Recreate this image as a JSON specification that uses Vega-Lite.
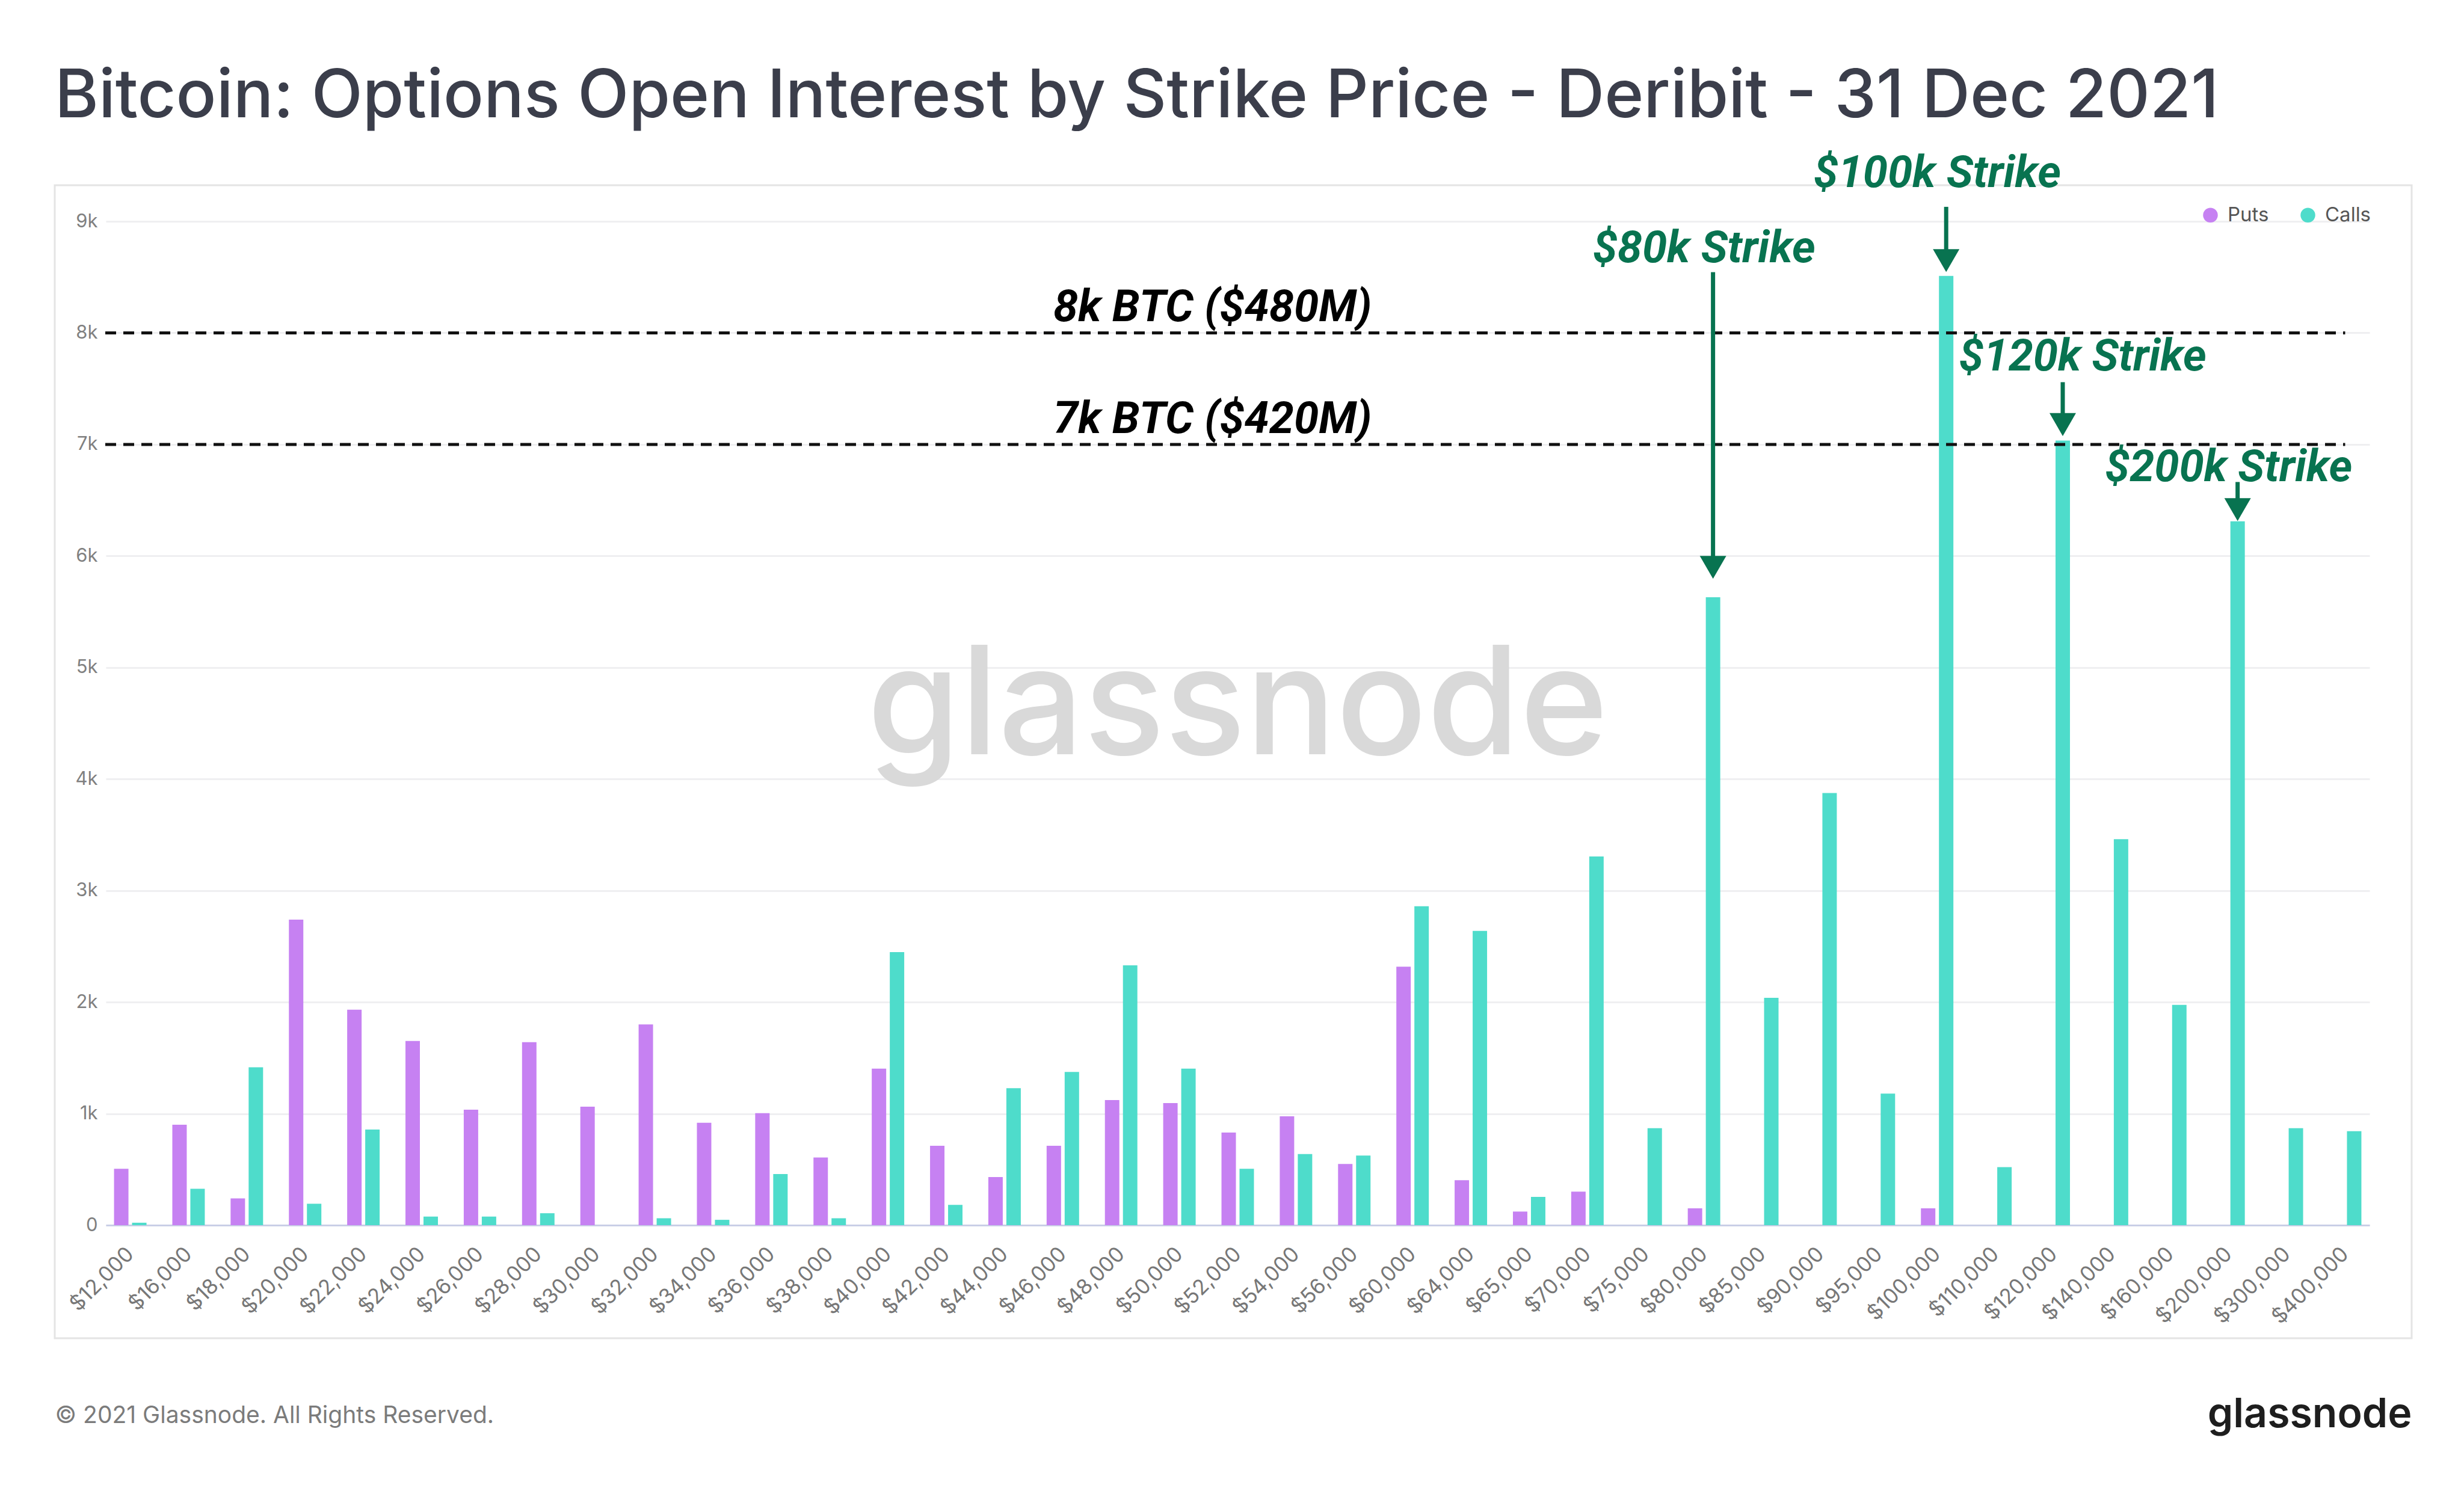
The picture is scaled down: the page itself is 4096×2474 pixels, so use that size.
{
  "$schema": "https://vega.github.io/schema/vega-lite/v6.json",
  "width": 3918,
  "height": 1917,
  "autosize": {"type": "none"},
  "padding": {"left": 91, "top": 308, "right": 87, "bottom": 249},
  "background": "white",
  "title": {
    "text": "Bitcoin: Options Open Interest by Strike Price - Deribit - 31 Dec 2021",
    "anchor": "start",
    "frame": "group",
    "baseline": "alphabetic",
    "offset": -54,
    "font": "Inter",
    "fontSize": 111,
    "fontWeight": 500,
    "color": "#3b3e4b"
  },
  "datasets": {
    "oi": [
      {"strike": "$12,000", "type": "Puts", "oi": 505}, {"strike": "$12,000", "type": "Calls", "oi": 22},
      {"strike": "$16,000", "type": "Puts", "oi": 900}, {"strike": "$16,000", "type": "Calls", "oi": 326},
      {"strike": "$18,000", "type": "Puts", "oi": 240}, {"strike": "$18,000", "type": "Calls", "oi": 1415},
      {"strike": "$20,000", "type": "Puts", "oi": 2740}, {"strike": "$20,000", "type": "Calls", "oi": 192},
      {"strike": "$22,000", "type": "Puts", "oi": 1932}, {"strike": "$22,000", "type": "Calls", "oi": 858},
      {"strike": "$24,000", "type": "Puts", "oi": 1652}, {"strike": "$24,000", "type": "Calls", "oi": 77},
      {"strike": "$26,000", "type": "Puts", "oi": 1035}, {"strike": "$26,000", "type": "Calls", "oi": 77},
      {"strike": "$28,000", "type": "Puts", "oi": 1640}, {"strike": "$28,000", "type": "Calls", "oi": 107},
      {"strike": "$30,000", "type": "Puts", "oi": 1062},
      {"strike": "$32,000", "type": "Puts", "oi": 1800}, {"strike": "$32,000", "type": "Calls", "oi": 62},
      {"strike": "$34,000", "type": "Puts", "oi": 918}, {"strike": "$34,000", "type": "Calls", "oi": 48},
      {"strike": "$36,000", "type": "Puts", "oi": 1005}, {"strike": "$36,000", "type": "Calls", "oi": 458},
      {"strike": "$38,000", "type": "Puts", "oi": 607}, {"strike": "$38,000", "type": "Calls", "oi": 62},
      {"strike": "$40,000", "type": "Puts", "oi": 1403}, {"strike": "$40,000", "type": "Calls", "oi": 2448},
      {"strike": "$42,000", "type": "Puts", "oi": 712}, {"strike": "$42,000", "type": "Calls", "oi": 182},
      {"strike": "$44,000", "type": "Puts", "oi": 432}, {"strike": "$44,000", "type": "Calls", "oi": 1228},
      {"strike": "$46,000", "type": "Puts", "oi": 712}, {"strike": "$46,000", "type": "Calls", "oi": 1374},
      {"strike": "$48,000", "type": "Puts", "oi": 1122}, {"strike": "$48,000", "type": "Calls", "oi": 2329},
      {"strike": "$50,000", "type": "Puts", "oi": 1094}, {"strike": "$50,000", "type": "Calls", "oi": 1403},
      {"strike": "$52,000", "type": "Puts", "oi": 830}, {"strike": "$52,000", "type": "Calls", "oi": 506},
      {"strike": "$54,000", "type": "Puts", "oi": 976}, {"strike": "$54,000", "type": "Calls", "oi": 638},
      {"strike": "$56,000", "type": "Puts", "oi": 549}, {"strike": "$56,000", "type": "Calls", "oi": 624},
      {"strike": "$60,000", "type": "Puts", "oi": 2317}, {"strike": "$60,000", "type": "Calls", "oi": 2860},
      {"strike": "$64,000", "type": "Puts", "oi": 403}, {"strike": "$64,000", "type": "Calls", "oi": 2638},
      {"strike": "$65,000", "type": "Puts", "oi": 122}, {"strike": "$65,000", "type": "Calls", "oi": 254},
      {"strike": "$70,000", "type": "Puts", "oi": 300}, {"strike": "$70,000", "type": "Calls", "oi": 3305},
      {"strike": "$75,000", "type": "Calls", "oi": 870},
      {"strike": "$80,000", "type": "Puts", "oi": 151}, {"strike": "$80,000", "type": "Calls", "oi": 5630},
      {"strike": "$85,000", "type": "Calls", "oi": 2038},
      {"strike": "$90,000", "type": "Calls", "oi": 3875},
      {"strike": "$95,000", "type": "Calls", "oi": 1180},
      {"strike": "$100,000", "type": "Puts", "oi": 151}, {"strike": "$100,000", "type": "Calls", "oi": 8510},
      {"strike": "$110,000", "type": "Calls", "oi": 520},
      {"strike": "$120,000", "type": "Calls", "oi": 7035},
      {"strike": "$140,000", "type": "Calls", "oi": 3460},
      {"strike": "$160,000", "type": "Calls", "oi": 1975},
      {"strike": "$200,000", "type": "Calls", "oi": 6310},
      {"strike": "$300,000", "type": "Calls", "oi": 870},
      {"strike": "$400,000", "type": "Calls", "oi": 842}
    ],
    "levels": [
      {"level": 8000, "label": "8k BTC ($480M)"},
      {"level": 7000, "label": "7k BTC ($420M)"}
    ],
    "strikes": [
      {"strike": "$80,000", "type": "Calls", "label": "$80k Strike", "labelY": 8636, "top": 8545, "head": 5898, "side": "center"},
      {"strike": "$100,000", "type": "Calls", "label": "$100k Strike", "labelY": 9310, "top": 9130, "head": 8648, "side": "center"},
      {"strike": "$120,000", "type": "Calls", "label": "$120k Strike", "labelY": 7660, "top": 7558, "head": 7178, "side": "shifted"},
      {"strike": "$200,000", "type": "Calls", "label": "$200k Strike", "labelY": 6671, "top": 6663, "head": 6416, "side": "center"}
    ]
  },
  "layer": [
    {
      "data": {"name": "oi"},
      "mark": {"type": "bar"},
      "encoding": {
        "x": {
          "field": "strike",
          "type": "nominal",
          "scale": {
            "domain": ["$12,000", "$16,000", "$18,000", "$20,000", "$22,000", "$24,000", "$26,000", "$28,000", "$30,000", "$32,000", "$34,000", "$36,000", "$38,000", "$40,000", "$42,000", "$44,000", "$46,000", "$48,000", "$50,000", "$52,000", "$54,000", "$56,000", "$60,000", "$64,000", "$65,000", "$70,000", "$75,000", "$80,000", "$85,000", "$90,000", "$95,000", "$100,000", "$110,000", "$120,000", "$140,000", "$160,000", "$200,000", "$300,000", "$400,000"],
            "range": [85, 3848],
            "paddingInner": 0.443,
            "paddingOuter": 0.14
          },
          "axis": {
            "title": "© 2021 Glassnode. All Rights Reserved.",
            "titleX": 0,
            "titleY": 316,
            "titleAlign": "left",
            "titleBaseline": "middle",
            "titleFont": "Inter",
            "titleFontSize": 39,
            "titleFontWeight": "normal",
            "titleColor": "#7b7b7b",
            "offset": -188,
            "labelAngle": -45,
            "labelAlign": "right",
            "labelBaseline": "middle",
            "labelFont": "Inter",
            "labelFontSize": 35,
            "labelColor": "#777777",
            "labelPadding": 42,
            "labelOverlap": false,
            "ticks": false,
            "grid": false,
            "domainColor": "#c9cfe6",
            "domainWidth": 3
          }
        },
        "xOffset": {"field": "type", "scale": {"domain": ["Puts", "Calls"], "paddingInner": 0.2, "paddingOuter": 0}},
        "y": {
          "field": "oi",
          "type": "quantitative",
          "scale": {"domain": [0, 9000], "range": [1729, 60], "nice": false},
          "axis": {
            "title": "glassnode",
            "titleAngle": 0,
            "titleX": 3833,
            "titleY": 2064,
            "titleAlign": "right",
            "titleBaseline": "alphabetic",
            "titleFont": "Inter",
            "titleFontSize": 68,
            "titleFontWeight": 600,
            "titleColor": "#1e1e1e",
            "offset": -85,
            "values": [0, 1000, 2000, 3000, 4000, 5000, 6000, 7000, 8000, 9000],
            "labelExpr": "datum.value === 0 ? '0' : (datum.value / 1000) + 'k'",
            "labelFont": "Inter",
            "labelFontSize": 31,
            "labelColor": "#808080",
            "labelPadding": 14,
            "ticks": false,
            "domain": false,
            "grid": true,
            "gridColor": "#efeff1",
            "gridWidth": 3
          }
        },
        "color": {
          "field": "type",
          "type": "nominal",
          "scale": {"domain": ["Puts", "Calls"], "range": ["#c681f2", "#4edccb"]},
          "legend": {
            "orient": "none",
            "legendX": 3567,
            "legendY": 33,
            "direction": "horizontal",
            "title": null,
            "symbolType": "circle",
            "symbolSize": 600,
            "symbolOpacity": 1,
            "symbolStrokeWidth": 0,
            "labelFont": "Inter",
            "labelFontSize": 33,
            "labelColor": "#555555",
            "labelOffset": 12,
            "columnPadding": 48,
            "padding": 0
          }
        }
      }
    },
    {
      "data": {"values": [{}]},
      "mark": {"type": "text", "text": "glassnode", "font": "Inter", "fontSize": 250, "fontWeight": 500, "color": "#d9d9d9", "align": "center", "baseline": "alphabetic"},
      "encoding": {
        "x": {"datum": "$52,000", "type": "nominal"},
        "y": {"datum": 4220, "type": "quantitative"}
      }
    },
    {
      "data": {"name": "levels"},
      "mark": {"type": "rule", "strokeDash": [18, 12], "strokeWidth": 5, "color": "#111111"},
      "encoding": {
        "x": {"datum": "$12,000", "type": "nominal", "bandPosition": -0.27},
        "x2": {"datum": "$400,000"},
        "y": {"field": "level", "type": "quantitative"}
      }
    },
    {
      "data": {"name": "levels"},
      "mark": {"type": "text", "font": "Roboto", "fontStyle": "italic", "fontWeight": "bold", "fontSize": 74, "color": "#000000", "align": "center", "baseline": "alphabetic", "dx": 55, "dy": -19},
      "encoding": {
        "x": {"datum": "$50,000", "type": "nominal"},
        "y": {"field": "level", "type": "quantitative"},
        "text": {"field": "label"}
      }
    },
    {
      "data": {"name": "strikes"},
      "mark": {"type": "rule", "strokeWidth": 7, "color": "#087350"},
      "encoding": {
        "x": {"field": "strike", "type": "nominal"},
        "xOffset": {"field": "type"},
        "y": {"field": "top", "type": "quantitative"},
        "y2": {"field": "head"}
      }
    },
    {
      "data": {"name": "strikes"},
      "mark": {"type": "point", "shape": "triangle-down", "filled": true, "size": 1936, "color": "#087350", "opacity": 1},
      "encoding": {
        "x": {"field": "strike", "type": "nominal"},
        "xOffset": {"field": "type"},
        "y": {"field": "head", "type": "quantitative"}
      }
    },
    {
      "data": {"name": "strikes"},
      "transform": [{"filter": "datum.side === 'center'"}],
      "mark": {"type": "text", "font": "Roboto", "fontStyle": "italic", "fontWeight": "bold", "fontSize": 74, "color": "#087350", "align": "center", "baseline": "alphabetic"},
      "encoding": {
        "x": {"field": "strike", "type": "nominal"},
        "y": {"field": "labelY", "type": "quantitative"},
        "text": {"field": "label"}
      }
    },
    {
      "data": {"name": "strikes"},
      "transform": [{"filter": "datum.side === 'shifted'"}],
      "mark": {"type": "text", "font": "Roboto", "fontStyle": "italic", "fontWeight": "bold", "fontSize": 74, "color": "#087350", "align": "center", "baseline": "alphabetic", "dx": 48},
      "encoding": {
        "x": {"field": "strike", "type": "nominal"},
        "y": {"field": "labelY", "type": "quantitative"},
        "text": {"field": "label"}
      }
    }
  ],
  "config": {
    "view": {"stroke": "#e4e4e4", "strokeWidth": 3},
    "font": "Inter"
  }
}
